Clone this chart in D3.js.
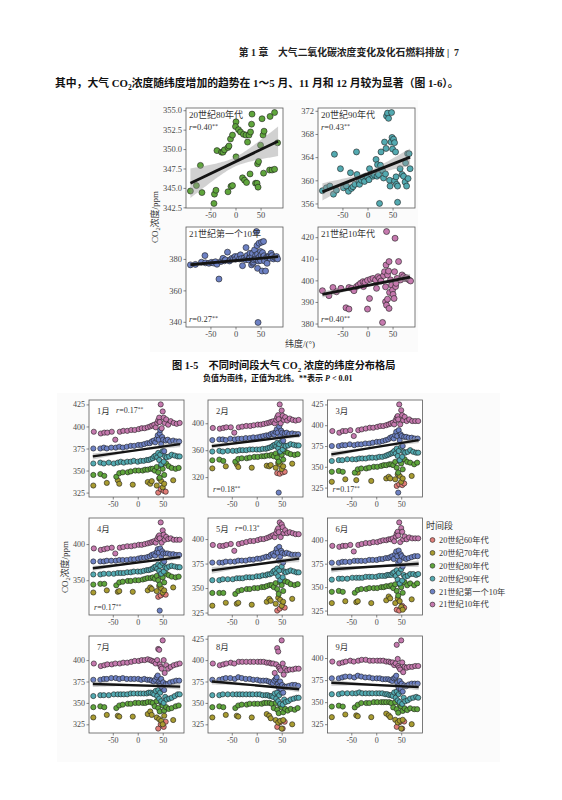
<!DOCTYPE html>
<html>
<head>
<meta charset="utf-8">
<script src="https://cdn.jsdelivr.net/npm/d3@7"></script>
<style>
  body { margin: 0; background: #fff; }
  svg text { font-family: "Liberation Serif", "Noto Sans CJK SC", serif; }
</style>
</head>
<body>
<div id="page"></div>
<script>
// ---------- shared ----------
const decades = ["20世纪60年代", "20世纪70年代", "20世纪80年代", "20世纪90年代", "21世纪第一个10年", "21世纪10年代"];
const decadeColors = ["#e17d78", "#a89b30", "#5fa53c", "#53aab1", "#6d81c4", "#c579ae"];
const xTicks = [-50, 0, 50];

// ---------- Fig 1-5 : four periods ----------
const f5Titles = ["20世纪80年代", "20世纪90年代", "21世纪第一个10年", "21世纪10年代"];
const f5R = ["0.40", "0.43", "0.27", "0.40"];
const f5ColorIdx = [2, 3, 4, 5];
const f5YTicks = [[342.5, 345, 347.5, 350, 352.5, 355], [356, 360, 364, 368, 372], [340, 360, 380], [380, 390, 400, 410, 420]];
const f5Fit = [[345.6, 351.0], [358.0, 364.0], [376.3, 381.5], [393.5, 401.5]];
const f5Band = [[1.9, 0.6], [1.5, 0.4], [1.2, 0.35], [1.5, 0.5]];

const lat80s = [-90, -78, -70, -67, -42, -39, -43, -37, -28, -25, -22, -15, -13, -15, -9, -6, -10, -6, 1, 0, 1, 6, 10, 16, 21, 27, 30, 24, 32, 33, 29, 14, 18, 22, 40, 43, 45, 44, 46, 50, 53, 55, 57, 56, 68, 73, 78, 69, 78, 84];
const co2_80s = [344.6, 345.3, 347.9, 344.4, 344.2, 344.7, 343.0, 349.8, 349.6, 349.6, 349.9, 350.2, 350.4, 344.5, 345.2, 345.3, 351.3, 351.8, 353.5, 352.9, 349.0, 352.5, 352.2, 351.9, 351.8, 351.8, 352.2, 350.9, 353.2, 354.5, 346.8, 346.3, 346.0, 345.7, 345.6, 345.6, 345.1, 348.1, 348.4, 350.5, 353.9, 351.8, 352.3, 346.9, 347.3, 347.3, 347.4, 354.2, 354.7, 350.8];

const lat90s = [-90, -82, -75, -68, -66, -62, -54, -48, -42, -38, -34, -32, -29, -25, -22, -21, -17, -16, -12, -9, -6, -4, -1, 3, 4, 7, 11, 14, 17, 19, 20, 22, 24, 26, 27, 30, 32, 34, 36, 37, 38, 40, 42, 44, 45, 47, 48, 49, 50, 52, 54, 54, 56, 57, 58, 60, 60, 65, 69, 72, 75, 78, 80, 83, 85, 81, 76];
const co2_90s = [358.2, 358.7, 359.0, 357.6, 364.5, 358.3, 362.0, 358.7, 359.0, 358.1, 361.3, 358.6, 358.9, 359.3, 364.9, 361.0, 359.7, 359.3, 360.0, 360.5, 359.8, 360.7, 360.7, 360.1, 362.0, 361.1, 360.7, 360.9, 363.6, 360.7, 362.7, 361.0, 356.0, 362.6, 364.9, 361.7, 360.4, 366.6, 361.1, 365.5, 371.1, 371.6, 370.7, 360.0, 359.0, 366.6, 371.7, 367.4, 365.4, 367.1, 366.5, 359.9, 364.9, 360.6, 359.3, 356.2, 359.0, 362.0, 361.0, 360.7, 359.7, 359.0, 364.6, 364.6, 362.0, 360.3, 363.0];

const lat00s = [-90, -80, -68, -61, -60, -53, -48, -44, -40, -37, -33, -29, -25, -22, -20, -16, -12, -10, -7, -4, -1, 0, 4, 8, 10, 12, 14, 17, 20, 21, 23, 26, 28, 29, 29, 32, 33, 34, 35, 36, 37, 38, 40, 40, 42, 43, 44, 44, 45, 46, 47, 47, 50, 50, 51, 52, 53, 54, 55, 56, 57, 58, 60, 62, 63, 65, 67, 69, 71, 73, 76, 78, 80, 82, 84];
const co2_00s = [376.2, 376.5, 377.9, 382.1, 377.5, 377.2, 377.8, 377.4, 378.2, 376.6, 367.2, 378.3, 380.4, 378.8, 379.4, 384.3, 378.7, 379.5, 380.4, 380.0, 381.5, 379.8, 381.5, 380.0, 382.6, 380.2, 375.7, 380.4, 379.5, 387.2, 382.1, 379.4, 381.0, 380.9, 383.6, 376.2, 381.8, 383.6, 377.2, 378.0, 379.4, 385.7, 382.1, 380.0, 397.4, 388.5, 374.0, 383.0, 339.6, 378.7, 390.0, 381.0, 384.7, 379.0, 382.6, 390.6, 372.3, 384.0, 380.9, 391.1, 382.0, 378.7, 372.3, 381.0, 377.2, 381.5, 381.5, 380.4, 383.6, 382.1, 380.0, 381.0, 380.9, 381.5, 380.0];

const lat10s = [-90, -77, -69, -62, -53, -43, -37, -37, -32, -27, -22, -18, -14, -9, -8, -5, 0, 0, 4, 6, 11, 16, 18, 21, 24, 27, 30, 32, 34, 36, 36, 37, 38, 38, 40, 40, 42, 43, 43, 44, 46, 48, 50, 51, 53, 54, 55, 56, 57, 59, 62, 66, 69, 72, 75, 78, 83, 86];
const co2_10s = [395.2, 392.9, 396.7, 394.7, 396.3, 387.3, 386.7, 396.7, 396.3, 395.2, 397.1, 397.8, 398.6, 399.4, 397.1, 399.1, 386.7, 400.0, 391.6, 400.5, 400.9, 400.2, 396.3, 401.7, 400.9, 399.7, 380.5, 402.2, 404.0, 390.1, 397.0, 407.1, 422.6, 388.5, 391.3, 402.5, 404.3, 408.7, 387.0, 394.4, 400.2, 397.8, 395.5, 393.5, 391.6, 404.0, 419.5, 397.1, 398.6, 400.9, 408.7, 400.2, 402.5, 401.7, 400.9, 401.2, 400.2, 399.7];

const f5Lat = [lat80s, lat90s, lat00s, lat10s];
const f5Co2 = [co2_80s, co2_90s, co2_00s, co2_10s];

// ---------- Fig 1-6 : monthly, by period ----------
const months = ["1月", "2月", "3月", "4月", "5月", "6月", "7月", "8月", "9月"];
const monthR = ["0.17", "0.18", "0.17", "0.17", "0.13", null, null, null, null];
const monthSig = ["**", "**", "**", "**", "*", "", "", "", ""];
const monthRAtTop = [true, false, false, false, true, false, false, false, false];
const monthYTicks = [
  [325, 350, 375, 400, 425], [320, 360, 400], [325, 350, 375, 400, 425],
  [350, 400], [325, 350, 375, 400], [325, 350, 375, 400],
  [325, 350, 375, 400], [325, 350, 375, 400, 425], [325, 350, 375, 400]
];
const monthFit = [[366, 380], [366, 382], [365, 382], [366.5, 382], [368, 380], [369, 375], [372, 369], [375, 366], [372, 367]];
const monthBand = [3.5, 1.0];

// station latitudes per period
const latS60 = [41, 46, 52, 56];
const latS70 = [-89, -62, -40, -37, -10, 20, 25, 28, 38, 43, 47, 50, 53, 71];
const latS80 = [-89, -75, -67, -43, -37, -30, -20, -14, -5, 2, 10, 15, 20, 26, 30, 34, 38, 41, 44, 47, 50, 53, 57, 62, 68, 76, 82];
const latS90 = [-89, -75, -68, -58, -48, -40, -34, -28, -21, -14, -8, 0, 6, 12, 18, 22, 26, 30, 33, 36, 39, 41, 43, 45, 47, 50, 52, 55, 58, 63, 68, 74, 80, 84];
const latS00 = [-89, -75, -68, -62, -53, -44, -37, -30, -22, -14, -7, 1, 7, 13, 19, 24, 28, 32, 35, 38, 40, 42, 44, 45, 47, 49, 51, 53, 56, 60, 65, 71, 77, 83];
const latS10 = [-88, -74, -67, -61, -52, -45, -36, -29, -21, -13, -6, 2, 8, 14, 20, 25, 29, 33, 36, 39, 41, 43, 44, 46, 48, 50, 52, 54, 57, 61, 66, 72, 78, 84];
const stationLats = [latS60, latS70, latS80, latS90, latS00, latS10];

// CO2 (ppm) per month: [60s, 70s, 80s, 90s, 2000s, 2010s]
const janCO2 = [
  [325, 329, 327, 326],
  [333, 336, 339, 335, 334, 337, 335, 338, 333, 341, 338, 331, 335, 339],
  [345, 346, 344, 343, 347, 348, 348, 349, 350, 350, 350, 351, 351, 352, 352, 350, 354, 348, 342, 355, 352, 345, 358, 355, 353, 352, 353],
  [358, 359, 358, 359, 358, 359, 360, 359, 360, 360, 361, 360, 361, 361, 362, 362, 363, 364, 366, 367, 365, 370, 362, 368, 357, 372, 360, 366, 365, 366, 368, 367, 366, 366],
  [375, 375, 376, 375, 376, 376, 377, 376, 377, 378, 378, 379, 379, 380, 381, 381, 383, 384, 382, 386, 390, 385, 392, 396, 380, 388, 385, 372, 384, 385, 383, 384, 383, 383],
  [394, 392, 393, 393, 394, 385, 394, 395, 395, 396, 396, 397, 398, 398, 399, 400, 401, 402, 399, 404, 407, 410, 405, 425, 398, 417, 410, 404, 408, 402, 406, 404, 403, 404]
];
const febCO2 = [
  [326, 325, 327, 328],
  [333, 336, 339, 335, 334, 337, 336, 338, 334, 341, 339, 332, 336, 340],
  [345, 346, 344, 343, 347, 348, 348, 349, 350, 350, 351, 351, 352, 352, 353, 351, 355, 349, 343, 356, 353, 346, 358, 356, 354, 353, 354],
  [358, 359, 358, 359, 359, 359, 360, 360, 360, 361, 361, 361, 361, 362, 362, 363, 364, 365, 367, 368, 366, 371, 363, 369, 358, 373, 361, 367, 366, 367, 369, 368, 367, 367],
  [375, 376, 376, 375, 377, 376, 377, 377, 378, 378, 379, 379, 380, 381, 382, 382, 384, 385, 383, 387, 391, 386, 297, 395, 381, 389, 386, 374, 385, 386, 384, 385, 384, 384],
  [393, 392, 393, 394, 394, 386, 394, 395, 396, 396, 397, 398, 398, 399, 400, 401, 402, 403, 400, 405, 409, 412, 406, 428, 400, 419, 411, 405, 409, 404, 407, 405, 404, 405]
];
const marCO2 = [
  [327, 329, 328, 330],
  [332, 335, 334, 343, 333, 336, 338, 336, 335, 341, 339, 332, 336, 339],
  [344, 345, 344, 343, 347, 348, 348, 349, 350, 350, 351, 352, 352, 353, 353, 352, 356, 349, 343, 357, 354, 347, 359, 356, 355, 353, 355],
  [357, 358, 358, 359, 359, 359, 360, 360, 360, 361, 361, 361, 362, 362, 363, 364, 365, 366, 367, 369, 366, 372, 363, 369, 358, 374, 362, 368, 367, 368, 370, 368, 367, 367],
  [375, 375, 376, 376, 377, 376, 377, 377, 378, 378, 379, 380, 380, 381, 382, 383, 385, 386, 384, 388, 392, 387, 319, 394, 382, 389, 387, 375, 386, 386, 385, 385, 384, 384],
  [393, 391, 393, 393, 394, 387, 394, 395, 396, 397, 397, 398, 399, 399, 400, 401, 402, 403, 401, 406, 409, 411, 407, 425, 401, 418, 412, 406, 410, 405, 407, 405, 405, 405]
];
const aprCO2 = [
  [327, 329, 331, 330],
  [333, 336, 334, 335, 334, 336, 340, 338, 335, 342, 339, 333, 336, 340],
  [344, 345, 345, 343, 347, 348, 349, 349, 350, 350, 351, 352, 353, 353, 354, 352, 356, 350, 344, 357, 354, 347, 359, 357, 355, 354, 355],
  [358, 358, 359, 359, 359, 360, 360, 360, 361, 361, 362, 362, 362, 363, 364, 364, 365, 366, 368, 369, 366, 372, 363, 370, 359, 374, 362, 368, 367, 369, 370, 369, 368, 368],
  [376, 376, 376, 377, 377, 377, 378, 378, 378, 379, 379, 380, 381, 381, 382, 383, 385, 386, 384, 389, 393, 388, 308, 394, 383, 390, 387, 376, 387, 387, 386, 386, 385, 385],
  [394, 392, 393, 394, 395, 387, 395, 396, 397, 397, 398, 399, 399, 400, 401, 402, 403, 404, 402, 407, 410, 412, 408, 430, 402, 419, 413, 406, 410, 407, 408, 406, 406, 406]
];
const mayCO2 = [
  [327, 329, 331, 330],
  [332, 335, 334, 335, 333, 336, 339, 337, 334, 340, 338, 332, 336, 339],
  [345, 345, 345, 344, 347, 348, 349, 349, 350, 350, 351, 351, 352, 353, 353, 351, 355, 349, 344, 356, 353, 347, 357, 356, 354, 353, 354],
  [358, 358, 359, 359, 359, 360, 360, 360, 361, 361, 361, 362, 362, 363, 363, 364, 364, 365, 367, 368, 365, 370, 362, 368, 358, 372, 361, 367, 366, 367, 368, 367, 366, 366],
  [376, 376, 376, 377, 377, 377, 378, 378, 378, 379, 379, 380, 380, 381, 382, 382, 384, 385, 383, 387, 390, 386, 378, 392, 382, 388, 386, 376, 385, 386, 385, 384, 384, 384],
  [394, 393, 393, 394, 395, 388, 395, 396, 397, 398, 398, 399, 400, 400, 401, 402, 403, 404, 402, 406, 409, 411, 407, 417, 402, 415, 412, 406, 409, 406, 407, 406, 405, 405]
];
const junCO2 = [
  [326, 325, 330, 328],
  [333, 335, 334, 335, 333, 336, 340, 338, 333, 338, 335, 329, 326, 337],
  [345, 346, 345, 344, 347, 348, 348, 349, 349, 349, 350, 350, 351, 351, 352, 349, 353, 346, 341, 353, 350, 344, 355, 352, 354, 352, 354],
  [358, 359, 359, 359, 360, 360, 360, 360, 361, 361, 361, 361, 362, 362, 362, 363, 363, 363, 365, 366, 362, 368, 358, 365, 354, 369, 357, 363, 361, 362, 364, 364, 363, 364],
  [376, 376, 377, 377, 377, 378, 378, 378, 378, 379, 379, 379, 380, 380, 381, 381, 382, 383, 380, 385, 388, 383, 376, 389, 378, 385, 383, 372, 381, 380, 381, 382, 383, 383],
  [394, 393, 394, 394, 395, 388, 395, 396, 397, 397, 398, 398, 399, 400, 400, 401, 401, 402, 399, 404, 407, 409, 405, 419, 398, 413, 409, 401, 404, 401, 403, 402, 402, 402]
];
const julCO2 = [
  [320, 325, 322, 328],
  [333, 336, 335, 334, 334, 337, 340, 336, 333, 331, 329, 325, 335, 330],
  [345, 346, 345, 344, 347, 348, 349, 349, 350, 350, 350, 350, 351, 351, 350, 346, 352, 344, 340, 350, 347, 341, 345, 343, 344, 346, 347],
  [358, 359, 359, 359, 360, 360, 360, 360, 360, 361, 361, 361, 361, 361, 361, 362, 362, 361, 360, 364, 358, 365, 355, 362, 352, 366, 350, 357, 354, 355, 356, 358, 360, 360],
  [377, 377, 378, 378, 379, 379, 378, 379, 378, 378, 378, 378, 377, 378, 377, 377, 376, 375, 377, 380, 382, 374, 372, 370, 378, 368, 374, 365, 372, 372, 374, 375, 376, 376],
  [396, 393, 394, 395, 395, 396, 396, 397, 397, 398, 399, 399, 400, 400, 401, 400, 399, 398, 396, 400, 413, 412, 395, 392, 390, 423, 400, 385, 394, 390, 392, 394, 395, 396]
];
const augCO2 = [
  [322, 327, 320, 328],
  [333, 336, 335, 334, 333, 337, 335, 332, 330, 327, 329, 320, 330, 325],
  [345, 346, 345, 344, 347, 348, 348, 349, 349, 349, 349, 350, 350, 350, 349, 344, 350, 342, 338, 347, 345, 339, 343, 341, 343, 342, 344],
  [359, 359, 360, 360, 360, 360, 360, 360, 360, 360, 360, 360, 360, 359, 359, 359, 358, 358, 357, 361, 355, 362, 352, 359, 349, 362, 348, 354, 351, 352, 354, 355, 356, 356],
  [377, 377, 378, 379, 379, 378, 380, 379, 378, 378, 377, 377, 376, 376, 376, 375, 374, 373, 376, 378, 380, 372, 369, 367, 375, 366, 371, 362, 369, 369, 370, 371, 371, 370],
  [396, 394, 395, 396, 397, 396, 398, 398, 398, 398, 398, 398, 398, 398, 397, 397, 396, 396, 385, 395, 414, 410, 392, 390, 388, 423, 396, 383, 390, 388, 389, 389, 390, 390]
];
const sepCO2 = [
  [322, 327, 320, 328],
  [333, 336, 335, 334, 333, 337, 335, 333, 330, 327, 329, 320, 330, 325],
  [345, 346, 345, 344, 347, 349, 349, 349, 350, 350, 350, 350, 350, 350, 349, 344, 350, 342, 338, 347, 345, 340, 343, 341, 343, 342, 342],
  [359, 359, 360, 360, 360, 360, 361, 360, 360, 360, 360, 360, 360, 360, 359, 359, 358, 358, 357, 361, 355, 362, 352, 359, 350, 362, 348, 355, 351, 352, 354, 355, 356, 355],
  [377, 377, 378, 379, 379, 378, 380, 379, 378, 378, 377, 377, 377, 376, 376, 376, 375, 374, 377, 378, 380, 372, 368, 366, 374, 365, 371, 362, 369, 368, 370, 371, 371, 371],
  [396, 394, 395, 396, 397, 396, 397, 398, 398, 397, 397, 397, 397, 397, 396, 396, 395, 395, 392, 394, 415, 399, 391, 389, 387, 420, 395, 384, 390, 389, 390, 390, 391, 391]
];
const monthCO2 = [janCO2, febCO2, marCO2, aprCO2, mayCO2, junCO2, julCO2, augCO2, sepCO2];

// ---------- drawing ----------
const W = 562, H = 800;
const svg = d3.select("#page").append("svg").attr("width", W).attr("height", H);

// pad a [min,max] extent by 5% on each side, like ggplot
function padded(ext) {
  const p = (ext[1] - ext[0]) * 0.05;
  return [ext[0] - p, ext[1] + p];
}

function drawPanel(g, box, pts, xExt, yTicks, yFmt, fit, band, o) {
  const x = d3.scaleLinear().domain(padded(xExt)).range([box.x, box.x + box.w]);
  const y = d3.scaleLinear().domain(padded(d3.extent(pts, d => d.v))).range([box.y + box.h, box.y]);

  g.append("rect").attr("x", box.x).attr("y", box.y).attr("width", box.w).attr("height", box.h).attr("fill", "#fff");

  g.append("g").selectAll("circle").data(pts).join("circle")
    .attr("cx", d => x(d.lat)).attr("cy", d => y(d.v)).attr("r", o.r)
    .attr("fill", d => d.c).attr("stroke", "#1e1e1e").attr("stroke-width", 0.6);

  // lm line with confidence band
  const fx = [-90, 85];
  const lineAt = t => fit[0] + (fit[1] - fit[0]) * (t - fx[0]) / (fx[1] - fx[0]);
  const half = t => {
    const u = (t - (fx[0] + fx[1]) / 2) / ((fx[1] - fx[0]) / 2);
    return Math.sqrt(band[1] * band[1] + (band[0] * band[0] - band[1] * band[1]) * u * u);
  };
  const xs = d3.range(fx[0], fx[1] + 0.01, 2.5);
  g.append("path").datum(xs)
    .attr("d", d3.area().x(t => x(t)).y0(t => y(lineAt(t) - half(t))).y1(t => y(lineAt(t) + half(t))))
    .attr("fill", "#999").attr("fill-opacity", 0.45);
  g.append("path").datum(fx)
    .attr("d", d3.line().x(t => x(t)).y(t => y(lineAt(t))))
    .attr("fill", "none").attr("stroke", "#141414").attr("stroke-width", o.lw);

  g.append("rect").attr("x", box.x).attr("y", box.y).attr("width", box.w).attr("height", box.h)
    .attr("fill", "none").attr("stroke", "#5a5a5a").attr("stroke-width", 0.8);

  const xa = g.append("g").attr("transform", `translate(0,${box.y + box.h})`)
    .call(d3.axisBottom(x).tickValues(xTicks).tickSize(2.5).tickPadding(1.5).tickFormat(d => String(d)));
  const ya = g.append("g").attr("transform", `translate(${box.x},0)`)
    .call(d3.axisLeft(y).tickValues(yTicks).tickSize(2.5).tickPadding(1.5).tickFormat(yFmt));
  [xa, ya].forEach(a => {
    a.select(".domain").remove();
    a.selectAll("line").attr("stroke", "#555").attr("stroke-width", 0.7);
    a.selectAll("text").attr("fill", "#4a4a4a").style("font-size", o.fs + "px");
  });
  return { x, y };
}

function rLabel(g, px, py, r, sig, fs) {
  const t = g.append("text").attr("x", px).attr("y", py).attr("fill", "#333").style("font-size", fs + "px");
  t.append("tspan").attr("font-style", "italic").text("r");
  t.append("tspan").text("=" + r);
  t.append("tspan").attr("dy", -2.5).style("font-size", (fs * 0.7) + "px").text(sig);
}

function co2Label(g, cx, cy, fs) {
  const t = g.append("text").attr("transform", `translate(${cx},${cy}) rotate(-90)`)
    .attr("text-anchor", "middle").attr("fill", "#333").style("font-size", fs + "px");
  t.append("tspan").text("CO");
  t.append("tspan").attr("dy", 2).style("font-size", (fs * 0.7) + "px").text("2");
  t.append("tspan").attr("dy", -2).text("浓度/ppm");
}

// ---------- page text ----------
svg.append("text").attr("x", 459).attr("y", 56).attr("text-anchor", "end")
  .attr("fill", "#222").style("font-size", "9.8px").style("font-weight", "bold")
  .style("white-space", "pre")
  .text("第 1 章\u3000大气二氧化碳浓度变化及化石燃料排放 |  7");

const body = svg.append("text").attr("x", 55).attr("y", 87).attr("fill", "#111")
  .style("font-size", "10.8px").style("font-weight", "bold").style("white-space", "pre");
body.append("tspan").text("其中，大气 CO");
body.append("tspan").attr("dy", 2.5).style("font-size", "7.5px").text("2");
body.append("tspan").attr("dy", -2.5).text("浓度随纬度增加的趋势在 1～5 月、11 月和 12 月较为显著（图 1-6）。");

// ---------- Fig 1-5 ----------
const fig5 = svg.append("g");
fig5.append("rect").attr("x", 150).attr("y", 100).attr("width", 268).attr("height", 252).attr("fill", "#fbfbfb");
const f5Boxes = [
  { x: 186, y: 108, w: 97, h: 100 }, { x: 318, y: 108, w: 97, h: 100 },
  { x: 186, y: 227, w: 97, h: 100 }, { x: 318, y: 227, w: 97, h: 100 }
];
const f5AllLat = f5Lat.flat();
const f5XExt = d3.extent(f5AllLat);
f5Boxes.forEach((b, i) => {
  const pts = f5Lat[i].map((la, k) => ({ lat: la, v: f5Co2[i][k], c: decadeColors[f5ColorIdx[i]] }));
  const fmt = i === 0 ? d3.format(".1f") : d3.format("d");
  drawPanel(fig5, b, pts, f5XExt, f5YTicks[i], fmt, f5Fit[i], f5Band[i], { r: 3, lw: 2.8, fs: 8.5 });
  fig5.append("text").attr("x", b.x + 3).attr("y", b.y + 10).attr("fill", "#333")
    .style("font-size", "9px").text(f5Titles[i]);
  if (i < 2) rLabel(fig5, b.x + 3, b.y + 22, f5R[i], "**", 8.5);
  else rLabel(fig5, b.x + 3, b.y + b.h - 5, f5R[i], "**", 8.5);
});
co2Label(fig5, 158, 217, 9);
fig5.append("text").attr("x", 300).attr("y", 347).attr("text-anchor", "middle").attr("fill", "#333")
  .style("font-size", "9px").text("纬度/(°)");

const cap = svg.append("text").attr("x", 172).attr("y", 369).attr("fill", "#111")
  .style("font-size", "10.2px").style("font-weight", "bold").style("white-space", "pre");
cap.append("tspan").text("图 1-5\u3000不同时间段大气 CO");
cap.append("tspan").attr("dy", 2.5).style("font-size", "7px").text("2");
cap.append("tspan").attr("dy", -2.5).text(" 浓度的纬度分布格局");

const sub = svg.append("text").attr("x", 203).attr("y", 381).attr("fill", "#111")
  .style("font-size", "8px").style("font-weight", "bold").style("white-space", "pre");
sub.append("tspan").text("负值为南纬，正值为北纬。**表示 ");
sub.append("tspan").attr("font-style", "italic").text("P");
sub.append("tspan").text(" < 0.01");

// ---------- Fig 1-6 ----------
const fig6 = svg.append("g");
fig6.append("rect").attr("x", 57).attr("y", 393).attr("width", 443).attr("height", 369).attr("fill", "#fbfbfb");
const colX = [89, 208, 327.5], rowY = [400, 518, 636];
const allStationLat = stationLats.flat();
const f6XExt = d3.extent(allStationLat);
months.forEach((m, i) => {
  const b = { x: colX[i % 3], y: rowY[Math.floor(i / 3)], w: 95, h: 97 };
  const pts = [];
  monthCO2[i].forEach((vals, di) => {
    stationLats[di].forEach((la, k) => {
      if (vals[k] != null) pts.push({ lat: la, v: vals[k], c: decadeColors[di] });
    });
  });
  drawPanel(fig6, b, pts, f6XExt, monthYTicks[i], d3.format("d"), monthFit[i], monthBand, { r: 2.6, lw: 2.4, fs: 8 });
  fig6.append("text").attr("x", b.x + 8).attr("y", b.y + 14).attr("fill", "#333")
    .style("font-size", "8.5px").text(m);
  if (monthR[i]) {
    if (monthRAtTop[i]) rLabel(fig6, b.x + 27, b.y + 13, monthR[i], monthSig[i], 8);
    else rLabel(fig6, b.x + 5, b.y + b.h - 5, monthR[i], monthSig[i], 8);
  }
});
co2Label(fig6, 68, 567, 9);

// legend
const leg = fig6.append("g");
leg.append("text").attr("x", 426).attr("y", 529).attr("fill", "#333").style("font-size", "9px").text("时间段");
decades.forEach((d, i) => {
  const yy = 540 + i * 12.9;
  leg.append("circle").attr("cx", 432.5).attr("cy", yy).attr("r", 2.4)
    .attr("fill", decadeColors[i]).attr("stroke", "#1e1e1e").attr("stroke-width", 0.6);
  leg.append("text").attr("x", 439).attr("y", yy).attr("dy", "0.35em").attr("fill", "#333")
    .style("font-size", "8.3px").text(d);
});
</script>
</body>
</html>
